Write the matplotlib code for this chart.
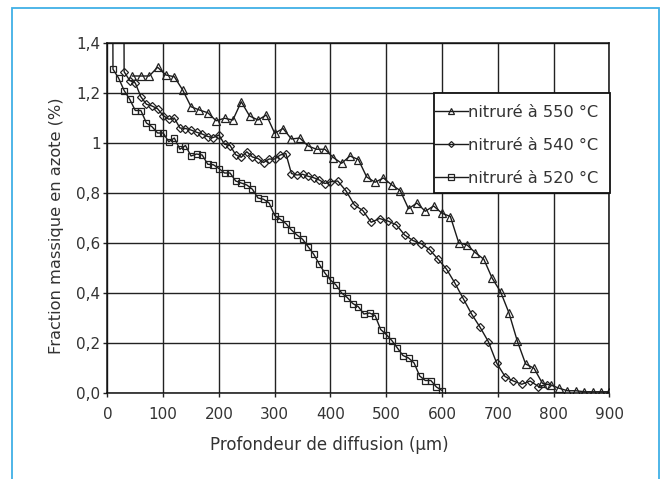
import matplotlib
matplotlib.use("Agg")
import matplotlib.pyplot as plt
from matplotlib.patches import Rectangle

# Nitrogen mass fraction profiles (depth in µm, N in wt%)
depth_550 = [45, 60, 75, 90, 105, 120, 135, 150, 165, 180, 195, 210, 225, 240,
             255, 270, 285, 300, 315, 330, 345, 360, 375, 390, 405, 420, 435,
             450, 465, 480, 495, 510, 525, 540, 555, 570, 585, 600, 615, 630,
             645, 660, 675, 690, 705, 720, 735, 750, 765, 780, 795, 810, 825,
             840, 855, 870, 885, 900]
n_550 = [1.268, 1.268, 1.268, 1.303, 1.272, 1.265, 1.212, 1.145, 1.132, 1.121,
         1.089, 1.099, 1.092, 1.165, 1.108, 1.092, 1.112, 1.039, 1.058, 1.016,
         1.020, 0.988, 0.975, 0.975, 0.942, 0.919, 0.948, 0.934, 0.864, 0.843,
         0.860, 0.832, 0.810, 0.737, 0.760, 0.727, 0.748, 0.719, 0.706, 0.601,
         0.592, 0.561, 0.535, 0.459, 0.405, 0.321, 0.208, 0.116, 0.099, 0.039,
         0.032, 0.019, 0.009, 0.009, 0.005, 0.005, 0.005, 0.005]

depth_540 = [20, 30, 40, 50, 60, 70, 80, 90, 100, 110, 120, 130, 140, 150, 160,
             170, 180, 190, 200, 210, 220, 230, 240, 250, 260, 270, 280, 290,
             300, 310, 320, 330, 340, 350, 360, 370, 380, 390, 400, 413, 428,
             443, 458, 473, 488, 503, 518, 533, 548, 563, 578, 593, 608, 623,
             638, 653, 668, 683, 698, 713, 728, 743, 758, 773, 788]
n_540 = [8.0, 1.285, 1.250, 1.240, 1.185, 1.155, 1.148, 1.137, 1.110, 1.095,
         1.100, 1.060, 1.058, 1.052, 1.043, 1.036, 1.026, 1.022, 1.032, 0.995,
         0.990, 0.953, 0.943, 0.965, 0.944, 0.938, 0.922, 0.936, 0.936, 0.952,
         0.958, 0.878, 0.872, 0.875, 0.867, 0.861, 0.852, 0.838, 0.845, 0.848,
         0.808, 0.752, 0.730, 0.683, 0.698, 0.688, 0.673, 0.632, 0.610, 0.597,
         0.573, 0.535, 0.496, 0.440, 0.378, 0.316, 0.264, 0.206, 0.120, 0.066,
         0.048, 0.035, 0.048, 0.026, 0.034]

depth_520 = [0, 10, 20, 30, 40, 50, 60, 70, 80, 90, 100, 110, 120, 130, 140,
             150, 160, 170, 180, 190, 200, 210, 220, 230, 240, 250, 260, 270,
             280, 290, 300, 310, 320, 330, 340, 350, 360, 370, 380, 390, 400,
             410, 420, 430, 440, 450, 460, 470, 480, 490, 500, 510, 520, 530,
             540, 550, 560, 570, 580, 590, 600]
n_520 = [8.0, 1.295, 1.260, 1.210, 1.175, 1.130, 1.130, 1.080, 1.065, 1.040,
         1.040, 1.005, 1.020, 0.975, 0.990, 0.948, 0.956, 0.952, 0.915, 0.913,
         0.898, 0.880, 0.880, 0.848, 0.840, 0.832, 0.815, 0.780, 0.775, 0.760,
         0.710, 0.695, 0.678, 0.652, 0.632, 0.615, 0.585, 0.555, 0.515, 0.480,
         0.452, 0.432, 0.400, 0.382, 0.358, 0.345, 0.316, 0.320, 0.310, 0.254,
         0.234, 0.210, 0.180, 0.150, 0.140, 0.120, 0.068, 0.050, 0.050, 0.024,
         0.010]

labels = ["nitruré à 550 °C", "nitruré à 540 °C", "nitruré à 520 °C"]
x_ticks = [0, 100, 200, 300, 400, 500, 600, 700, 800, 900]
y_ticks = [0.0, 0.2, 0.4, 0.6, 0.8, 1.0, 1.2, 1.4]
y_tick_labels = ["0,0", "0,2", "0,4", "0,6", "0,8", "1", "1,2", "1,4"]

plt.rcParams["font.family"] = ["DejaVu Sans"]
TXT = "#333333"
INK = "#1a1a1a"

fig = plt.figure(figsize=(6.66, 4.79), dpi=100)
W, H = 666, 479
x0, x1, y0, y1 = 107.4, 609.3, 43.0, 393.0
aw, ah = x1 - x0, y1 - y0
ax = fig.add_axes([x0 / W, 1 - y1 / H, aw / W, ah / H])

# blue frame around the figure
fig.add_artist(Rectangle((11.5 / W, -0.05), (659 - 11.5) / W, 1.05 - 7.5 / H,
                         transform=fig.transFigure, fill=False,
                         edgecolor="#40b0e6", linewidth=1.3, clip_on=False))

common = dict(color=INK, linewidth=1.0, markerfacecolor="none",
              markeredgecolor="#222222", markeredgewidth=0.9)
ax.plot(depth_550, n_550, marker="^", markersize=6.0, label=labels[0], **common)
ax.plot(depth_540, n_540, marker="D", markersize=4.0, label=labels[1], **common)
ax.plot(depth_520, n_520, marker="s", markersize=5.0, label=labels[2], **common)

ax.set_xlim(0, 900)
ax.set_ylim(0, 1.4)
ax.set_xticks(x_ticks)
ax.set_yticks(y_ticks)
ax.set_yticklabels(y_tick_labels)
ax.grid(True, color="#222222", linewidth=1.0)
ax.set_axisbelow(True)
for s in ax.spines.values():
    s.set_color("#111111")
    s.set_linewidth(1.1)
ax.tick_params(axis="both", direction="out", length=3, width=1.0,
               color="#222222", labelsize=11, labelcolor=TXT)
ax.tick_params(axis="x", pad=7)
ax.tick_params(axis="y", pad=2)

ax.set_xlabel("Profondeur de diffusion (µm)", fontsize=12, color=TXT)
ax.set_ylabel("Fraction massique en azote (%)", fontsize=11.7, color=TXT)
ax.xaxis.set_label_coords((329 - x0) / aw, (y1 - 445) / ah)
ax.xaxis.label.set_va("center")
ax.yaxis.set_label_coords((57 - x0) / aw, (y1 - 226) / ah)
ax.yaxis.label.set_va("center")

# legend box
lx0, lx1, ly0, ly1 = 434, 610, 93, 193
ax.add_patch(Rectangle(((lx0 - x0) / aw, (y1 - ly1) / ah), (lx1 - lx0) / aw,
                       (ly1 - ly0) / ah, transform=ax.transAxes,
                       facecolor="white", edgecolor="#111111", linewidth=1.3,
                       zorder=5, clip_on=False))
leg = ax.legend(loc="upper left",
                bbox_to_anchor=((lx0 + 1 - x0) / aw, (y1 - ly0 - 12) / ah),
                frameon=False, fontsize=11.7, handlelength=2.0,
                handletextpad=0.0, borderpad=0.0, labelspacing=1.1,
                borderaxespad=0.0, markerscale=0.75)
leg.set_zorder(6)
for t in leg.get_texts():
    t.set_color(TXT)

fig.savefig("out.png", dpi=100)
